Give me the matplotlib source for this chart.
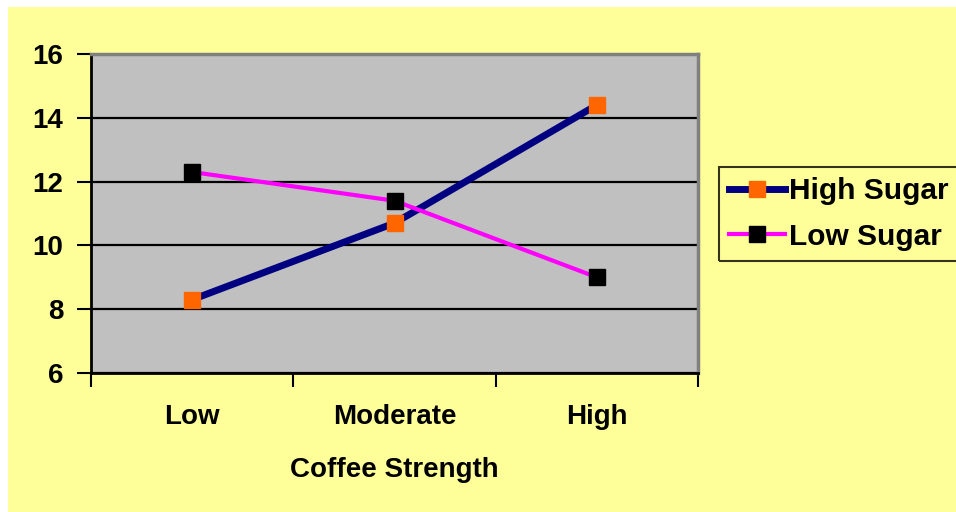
import numpy as np
import matplotlib
matplotlib.use('Agg')
import matplotlib.pyplot as plt
from matplotlib.patches import Rectangle

categories = ['Low', 'Moderate', 'High']
high_sugar = [8.3, 10.7, 14.4]
low_sugar = [12.3, 11.4, 9.0]
yticks = [6, 8, 10, 12, 14, 16]

plt.rcParams['font.family'] = 'Liberation Sans'
plt.rcParams['font.weight'] = 'bold'

W, H = 956, 512
fig = plt.figure(figsize=(W/100, H/100), dpi=100, facecolor='white')
# yellow chart area, white strip along top and left edges
fig.patches.append(Rectangle((8/W, 0), 1, 1 - 7/H, transform=fig.transFigure,
                             facecolor='#FFFF99', edgecolor='none', zorder=-10))

ax = fig.add_axes([91/W, 1 - 373/H, (698-91)/W, (373-54)/H])
ax.set_facecolor('#C0C0C0')
x = np.arange(len(categories))

ax.plot(x, high_sugar, color='#000080', lw=5, marker='s', ms=11,
        mfc='#FF6600', mec='#FF6600', label='High Sugar', zorder=3)
ax.plot(x, low_sugar, color='#FF00FF', lw=3, marker='s', ms=11,
        mfc='black', mec='black', label='Low Sugar', zorder=3)

ax.set_xlim(-0.5, 2.5)
ax.set_ylim(6, 16)
ax.set_yticks(yticks)
ax.yaxis.grid(True, color='black', lw=1.6)
ax.set_axisbelow(True)

# ticks between categories, labels at category centres
ax.set_xticks([-0.5, 0.5, 1.5, 2.5])
ax.set_xticklabels([])
ax.set_xticks(x, minor=True)
ax.set_xticklabels(categories, minor=True, fontsize=20, fontweight='bold')
ax.tick_params(axis='x', which='minor', length=0, pad=22)
ax.tick_params(axis='x', which='major', length=10, width=1.5, direction='out')
ax.tick_params(axis='y', length=10, width=1.5, direction='out', labelsize=20, pad=10)

for s in ['left', 'bottom']:
    ax.spines[s].set_color('black')
    ax.spines[s].set_linewidth(2)
for s in ['top', 'right']:
    ax.spines[s].set_color('#808080')
    ax.spines[s].set_linewidth(2.5)

ax.set_xlabel('Coffee Strength', fontsize=20, fontweight='bold', labelpad=20)

leg = fig.legend(loc='upper left', bbox_to_anchor=(719/W, 1 - 167/H),
                 fontsize=21.5, frameon=True, fancybox=False,
                 handlelength=1.85, handletextpad=0.15, labelspacing=0.58,
                 borderpad=0.35, borderaxespad=0)
leg.get_frame().set_edgecolor('black')
leg.get_frame().set_linewidth(1.5)
leg.get_frame().set_facecolor('none')
for t in leg.get_texts():
    t.set_fontweight('bold')

fig.savefig('out.png', dpi=100)
